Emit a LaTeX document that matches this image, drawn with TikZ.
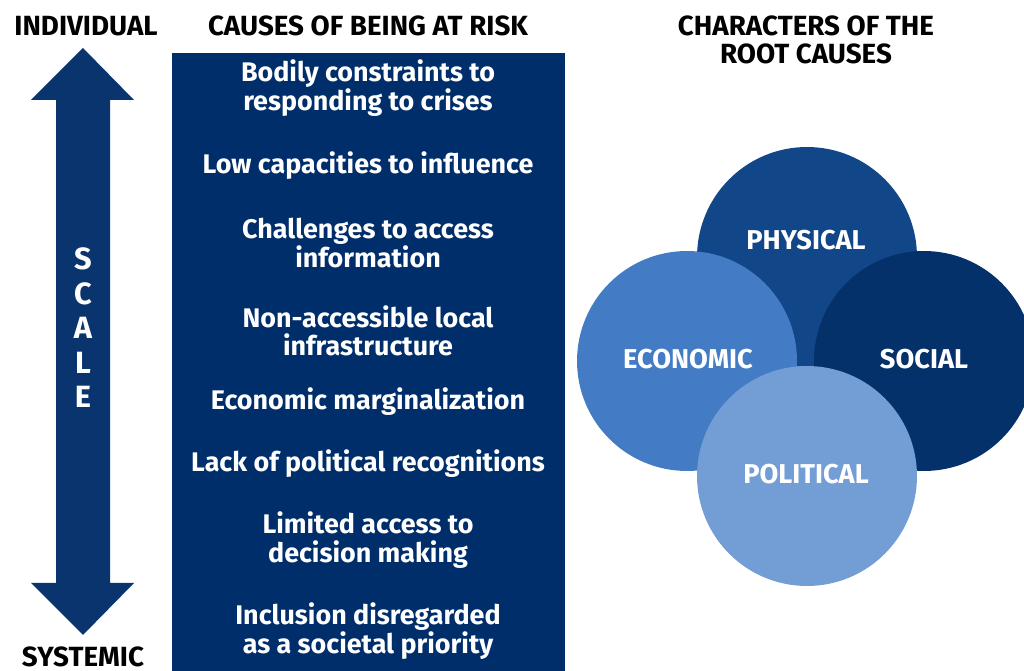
\documentclass[tikz,border=0pt]{standalone}
\usepackage{fontspec}
\setmainfont{Fira Sans}

\definecolor{navybox}{RGB}{0,46,106}
\definecolor{navyarrow}{RGB}{9,52,110}
\definecolor{physblue}{RGB}{17,70,137}
\definecolor{econblue}{RGB}{67,124,197}
\definecolor{socblue}{RGB}{4,49,105}
\definecolor{polblue}{RGB}{114,157,213}

\begin{document}
\begin{tikzpicture}[x=0.02cm, y=-0.02cm,
        heading/.style={font=\fontsize{15.8}{15.5}\selectfont\bfseries, text=black, align=center, inner sep=0pt},
        cause/.style={font=\fontsize{15.3}{16.2}\selectfont\bfseries, text=white, align=center, inner sep=0pt},
        scaleletter/.style={font=\fontsize{17.5}{18}\selectfont\bfseries, text=white, inner sep=0pt},
        rootcircle/.style={circle, minimum size=4.4cm, inner sep=0pt},
        rootlabel/.style={font=\fontsize{15.5}{16}\selectfont\bfseries, text=white, inner sep=0pt}]
        \useasboundingbox (0,0) rectangle (1024,671);

        % headings
        \node[heading] (individual) at (86, 26) {INDIVIDUAL};
        \node[heading] (systemic) at (83, 657) {SYSTEMIC};
        \node[heading] (causes) at (368, 26) {CAUSES OF BEING AT RISK};
        \node[heading] (characters) at (806, 40) {CHARACTERS OF THE\\ROOT CAUSES};

        % scale arrow
        \fill[navyarrow] (83,48) -- (31,100) -- (56,100) -- (56,583) -- (31,583) -- (83,635)
            -- (134,583) -- (110,583) -- (110,100) -- (134,100) -- cycle;
        \foreach \ch [count=\i] in {S,C,A,L,E}
            \node[scaleletter] (scale\i) at (83, {259+34.5*(\i-1)}) {\ch};

        % causes column
        \fill[navybox] (172,53) rectangle (565,671);
        \node[cause] (bodily) at (368, 88) {Bodily constraints to\\responding to crises};
        \node[cause] (influence) at (368, 166) {Low capacities to influence};
        \node[cause] (information) at (368, 243) {Challenges to access\\information};
        \node[cause] (infrastructure) at (368, 331) {Non-accessible local\\infrastructure};
        \node[cause] (marginal) at (368, 402) {Economic marginalization};
        \node[cause] (recognition) at (368, 464) {Lack of political recognitions};
        \node[cause] (decision) at (368, 540) {Limited access to\\decision making};
        \node[cause] (priority) at (368, 631) {Inclusion disregarded\\as a societal priority};

        % root causes
        \node[rootcircle, fill=physblue] (physical) at (807, 257) {};
        \node[rootcircle, fill=econblue] (economic) at (687, 361) {};
        \node[rootcircle, fill=socblue] (social) at (924, 361) {};
        \node[rootcircle, fill=polblue] (political) at (807, 476) {};
        \node[rootlabel] (physical label) at (806, 240) {PHYSICAL};
        \node[rootlabel] (economic label) at (688, 359) {ECONOMIC};
        \node[rootlabel] (social label) at (924, 359) {SOCIAL};
        \node[rootlabel] (political label) at (806, 474) {POLITICAL};
\end{tikzpicture}
\end{document}
